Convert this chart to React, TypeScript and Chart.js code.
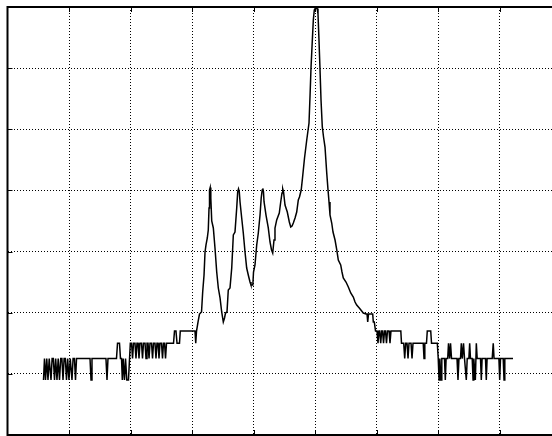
import React, { useEffect, useRef } from "react";
import { Chart, registerables } from "chart.js";

Chart.register(...registerables);

// Spectrum trace: x in scale units (10 per grid division), y in dB (10 per division)
const xValues: number[] = [
  5.85, 6.01, 6.18, 6.38, 6.58, 6.78, 7.07, 7.25, 7.45, 7.64, 7.83, 8.04, 8.24, 8.45, 8.65, 8.84,
  9.02, 9.2, 9.4, 9.59, 9.78, 9.99, 10.2, 10.3, 10.48, 10.66, 10.88, 11.05, 11.22,
  13.41, 13.57, 13.73, 16.0, 16.17, 16.33, 17.71, 17.88, 18.2, 18.36,
  18.53, 18.66, 18.8, 19.01, 19.18, 19.39, 19.66, 19.96,
  20.16, 20.32, 20.48, 20.72, 20.88, 21.04, 21.21, 21.37, 21.53, 21.78, 21.94, 22.1,
  22.35, 22.51, 22.67, 22.84, 23.0, 23.16, 23.41, 23.57, 23.73, 23.97, 24.13, 24.29,
  24.46, 24.62, 24.78, 25.03, 25.19, 25.35, 25.52, 25.68, 25.84,
  26.98, 27.14, 27.38, 27.55, 27.95, 28.08, 30.47, 30.59, 30.72,
  30.96, 31.2, 31.53, 31.72, 31.94, 32.1, 32.26, 32.47, 32.63, 32.75, 32.83, 32.94,
  33.04, 33.19, 33.45, 33.72, 34.0, 34.26, 34.54, 34.81, 35.07, 35.27, 35.43, 35.67,
  35.88, 36.16, 36.44, 36.7, 36.97, 37.25, 37.41, 37.54, 37.67, 37.79, 38.06, 38.32,
  38.6, 38.87, 39.13, 39.41, 39.57, 39.87, 39.98, 40.22, 40.5, 40.76, 41.04, 41.23,
  41.39, 41.49, 41.6, 41.69, 42.01, 42.38, 42.66, 42.91, 43.1, 43.31, 43.47, 43.75,
  44.17, 44.4, 44.61, 44.73, 44.86, 45.1, 45.47, 45.8, 46.03, 46.24, 46.45, 46.73,
  47.0, 47.26, 47.45, 47.73, 47.94, 48.27, 48.63, 49.0, 49.17, 49.33, 49.54, 49.7,
  49.86, 50.0, 50.33, 50.46, 50.62, 50.79, 50.95, 51.16, 51.36, 51.6, 51.88, 52.09,
  52.25, 52.41, 52.69, 52.9, 53.23, 53.51, 53.76, 54.15, 54.36, 54.57, 55.01, 55.39,
  55.78, 56.2, 56.48, 56.75, 57.17, 57.56, 57.82, 58.26, 58.43, 58.54, 58.67, 59.35,
  59.45, 59.61, 59.81,
  60.05, 60.21, 60.37, 60.49, 60.65, 60.81, 60.95, 61.11, 61.27, 61.43, 61.59, 61.75,
  62.0, 62.16, 62.32, 63.92, 64.03, 64.39, 64.55, 64.71, 64.93, 65.09, 65.25, 65.58,
  65.74, 65.9, 67.56, 67.69, 67.82, 68.09, 68.22, 68.78, 68.91, 69.85,
  70.0, 70.13, 70.26, 70.45, 70.58, 71.02, 71.15, 71.28, 71.54, 71.67, 71.85, 72.0,
  72.16, 73.05, 73.21, 73.37, 73.62, 73.75, 73.91, 74.11, 74.27, 74.56, 74.71, 74.98,
  75.11, 75.24, 75.52, 75.66, 75.78, 76.03, 76.19, 76.33, 76.87, 77.0, 77.13, 77.68,
  77.81, 77.94, 78.77, 78.94, 79.07, 79.86, 79.99, 80.12, 80.56, 80.69, 80.82, 82.15,
];

const yValues: number[] = [
  9.0, 12.5, 9.0, 12.5, 9.0, 12.5, 9.0, 12.5, 12.5, 9.0, 12.5, 9.0, 12.5, 9.0, 12.5, 12.5,
  9.0, 12.5, 12.5, 9.0, 12.5, 9.0, 12.5, 12.5, 9.0, 12.5, 12.5, 9.0, 12.5,
  12.5, 9.0, 12.5, 12.5, 9.0, 12.5, 12.5, 15.0, 15.0, 12.5,
  12.5, 9.0, 12.5, 9.0, 12.5, 9.0, 9.0, 15.0,
  15.0, 12.5, 15.0, 15.0, 12.5, 15.0, 15.0, 12.5, 15.0, 15.0, 12.5, 15.0,
  15.0, 12.5, 15.0, 15.0, 12.5, 15.0, 15.0, 12.5, 15.0, 15.0, 12.5, 15.0,
  15.0, 12.5, 15.0, 15.0, 12.5, 15.0, 15.0, 12.5, 15.0,
  15.0, 17.0, 17.0, 15.0, 15.0, 17.0, 17.0, 15.0, 17.0,
  18.48, 19.79, 20.12, 23.39, 26.17, 29.93, 31.08, 32.22, 33.53, 37.13, 40.07, 40.48,
  38.76, 35.0, 33.86, 30.59, 26.66, 24.04, 22.41, 20.12, 18.48, 19.14, 19.95, 20.12,
  23.72, 24.04, 27.31, 32.71, 33.2, 37.13, 39.75, 40.24, 39.75, 38.11, 35.49, 33.04,
  29.93, 27.31, 26.17, 25.02, 24.53, 24.53, 26.66, 27.81, 31.08, 33.04, 35.98, 38.76,
  40.07, 40.32, 39.75, 38.16, 35.98, 33.86, 31.57, 30.26, 29.77, 31.89, 33.86, 35.17,
  36.31, 38.11, 39.58, 40.24, 39.75, 37.62, 36.47, 34.84, 34.02, 34.18, 34.67, 35.49,
  36.47, 38.44, 38.93, 40.07, 42.03, 45.31, 48.25, 51.03, 55.61, 60.19, 64.61, 67.88,
  69.51, 69.76, 69.76, 68.86, 64.61, 59.7, 54.79, 50.38, 48.74, 47.1, 42.85, 40.07,
  38.11, 35.98, 34.67, 33.2, 31.89, 30.26, 28.62, 27.81, 26.66, 25.68, 25.02, 24.21,
  23.23, 22.57, 21.75, 21.26, 20.77, 20.28, 19.95, 19.79, 19.79, 18.48, 19.79, 19.79,
  18.48, 18.48, 17.0,
  17.0, 15.0, 17.0, 17.0, 15.0, 17.0, 17.0, 15.0, 17.0, 17.0, 15.0, 17.0,
  17.0, 15.0, 17.0, 17.0, 15.0, 15.0, 12.5, 15.0, 15.0, 12.5, 15.0, 15.0,
  12.5, 15.0, 15.0, 12.5, 15.0, 15.0, 17.0, 17.0, 15.0, 15.0,
  12.5, 9.0, 12.5, 9.0, 12.5, 12.5, 9.0, 12.5, 12.5, 15.0, 12.5, 15.0,
  12.5, 12.5, 9.0, 12.5, 12.5, 15.0, 12.5, 15.0, 12.5, 9.0, 12.5, 12.5,
  15.0, 12.5, 12.5, 9.0, 12.5, 9.0, 15.0, 12.5, 12.5, 9.0, 12.5, 12.5,
  9.0, 12.5, 12.5, 15.0, 12.5, 12.5, 9.0, 12.5, 12.5, 9.0, 12.5, 12.5,
];

const xMin = 0;
const xMax = 90;
const yMin = 0;
const yMax = 70;
const gridStep = 10;

const frameAndTicks = {
  id: "frameAndTicks",
  afterDraw(chart: any) {
    const { ctx, chartArea } = chart;
    const { left, right, top, bottom } = chartArea;
    const xs = chart.scales.x;
    const ys = chart.scales.y;
    ctx.save();
    ctx.strokeStyle = "#000";
    ctx.setLineDash([]);
    ctx.lineWidth = 1;
    const tl = 5;
    for (let v = xMin + gridStep; v < xMax; v += gridStep) {
      const px = Math.round(xs.getPixelForValue(v)) + 0.5;
      ctx.beginPath();
      ctx.moveTo(px, top);
      ctx.lineTo(px, top + tl);
      ctx.moveTo(px, bottom);
      ctx.lineTo(px, bottom - tl);
      ctx.stroke();
    }
    for (let v = yMin + gridStep; v < yMax; v += gridStep) {
      const py = Math.round(ys.getPixelForValue(v)) + 0.5;
      ctx.beginPath();
      ctx.moveTo(left, py);
      ctx.lineTo(left + tl, py);
      ctx.moveTo(right, py);
      ctx.lineTo(right - tl, py);
      ctx.stroke();
    }
    ctx.lineWidth = 2;
    ctx.beginPath();
    ctx.moveTo(left, bottom);
    ctx.lineTo(left, top);
    ctx.lineTo(right, top);
    ctx.lineTo(right, bottom);
    ctx.closePath();
    ctx.stroke();
    ctx.restore();
  },
};

export default function App() {
  const canvasRef = useRef<HTMLCanvasElement | null>(null);

  useEffect(() => {
    const canvas = canvasRef.current;
    if (!canvas) return;
    const points = xValues.map((x, i) => ({ x, y: yValues[i] }));
    const chart = new Chart(canvas, {
      type: "line",
      data: {
        datasets: [
          {
            data: points,
            borderColor: "#000",
            borderWidth: 1.5,
            pointRadius: 0,
            tension: 0,
            fill: false,
          },
        ],
      },
      options: {
        animation: false,
        responsive: false,
        devicePixelRatio: 1,
        layout: { padding: { left: 7.5, top: 7, right: 8.7, bottom: 1 } },
        plugins: { legend: { display: false }, tooltip: { enabled: false } },
        scales: {
          x: {
            type: "linear",
            min: xMin,
            max: xMax,
            ticks: { display: false, stepSize: gridStep },
            grid: { color: "#000", lineWidth: 1, drawTicks: false },
            border: { display: false, dash: [1, 2] },
          },
          y: {
            type: "linear",
            min: yMin,
            max: yMax,
            ticks: { display: false, stepSize: gridStep },
            grid: { color: "#000", lineWidth: 1, drawTicks: false },
            border: { display: false, dash: [1, 2] },
          },
        },
      },
      plugins: [frameAndTicks],
    });
    return () => chart.destroy();
  }, []);

  return (
    <div
      style={{
        position: "fixed",
        left: 0,
        top: 0,
        width: 552,
        height: 436,
        overflow: "hidden",
        background: "#fff",
      }}
    >
      <canvas ref={canvasRef} width={570} height={436} style={{ display: "block" }} />
    </div>
  );
}
